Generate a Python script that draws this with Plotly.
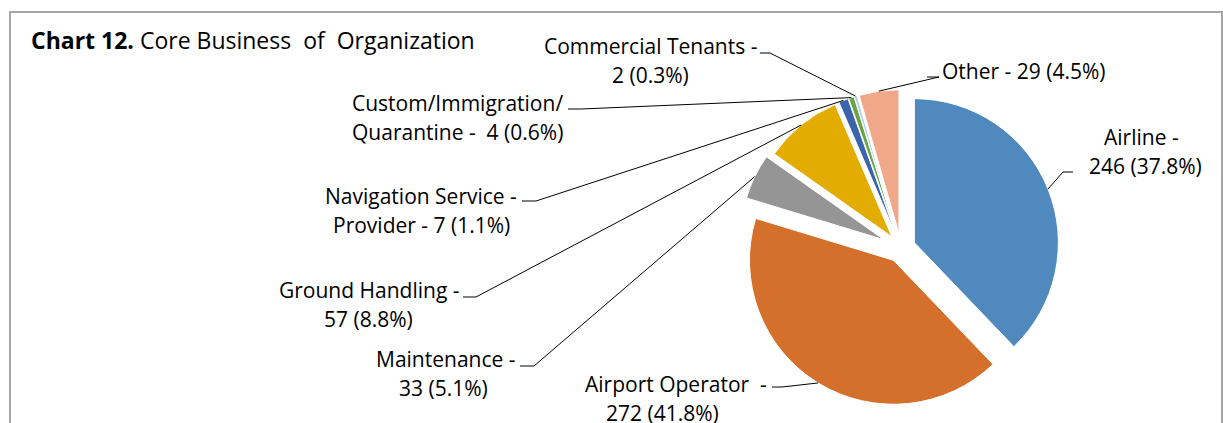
import math
import plotly.graph_objects as go

# ---------------- data ----------------
categories = ["Airline", "Airport Operator", "Maintenance", "Ground Handling",
              "Navigation Service Provider", "Custom/Immigration/Quarantine",
              "Commercial Tenants", "Other"]
counts = [246, 272, 33, 57, 7, 4, 2, 29]
colors = ["#4F89BD", "#D4702C", "#959595", "#E3AC00",
          "#3A64AD", "#6AA343", "#A9CBEC", "#F1A88A"]
pulls = [0.10, 0.10, 0.13, 0.10, 0.10, 0.10, 0.10, 0.10]

total = sum(counts)
pct = [f"{100.0 * c / total:.1f}%" for c in counts]
vp = [f"{c} ({p})" for c, p in zip(counts, pct)]

# label text lines for each slice (same order as categories)
label_lines = [
    ["Airline -", vp[0]],
    ["Airport Operator\u00a0 -", vp[1]],
    ["Maintenance -", vp[2]],
    ["Ground Handling -", vp[3]],
    ["Navigation Service -", "Provider - " + vp[4]],
    ["Custom/Immigration/", "Quarantine -\u00a0 " + vp[5]],
    ["Commercial Tenants -", vp[6]],
    ["Other - " + vp[7]],
]

# ---------------- layout constants (pixels) ----------------
W, H = 1223, 423
CX, CY, R = 901.0, 248.0, 144.0
FONT = "'Open Sans', Lato, sans-serif"
FS = 21
FS_TITLE = 23
LINE_H = 29

# per-label: list of line centre x's, first line centre y, leader start x, elbow x, leader y
label_pos = [
    dict(xs=[1141, 1145], y=137, lx0=1073, lx1=1063, ly=172),
    dict(xs=[676, 662], y=384, lx0=772, lx1=782, ly=387),
    dict(xs=[446, 444], y=359, lx0=520, lx1=534, ly=366),
    dict(xs=[369, 368], y=290, lx0=463, lx1=476, ly=297),
    dict(xs=[421, 421], y=196, lx0=522, lx1=536, ly=201),
    dict(xs=[457, 457], y=103, lx0=568, lx1=581, ly=109),
    dict(xs=[650, 650], y=46, lx0=760, lx1=770, ly=53),
    dict(xs=[1024], y=71, lx0=927, lx1=939, ly=77),
]


def fx(x):
    return x / W


def fy(y):
    return 1 - y / H


maxpull = max(pulls)
half = R * (1 + maxpull)

fig = go.Figure()
fig.add_trace(go.Pie(
    labels=categories,
    values=counts,
    sort=False,
    direction="clockwise",
    rotation=0,
    pull=pulls,
    textinfo="none",
    marker=dict(colors=colors, line=dict(color="white", width=1)),
    domain=dict(x=[fx(CX - half), fx(CX + half)], y=[fy(CY + half), fy(CY - half)]),
    showlegend=False,
    hoverinfo="label+value+percent",
))

r_used = R

annotations = []
shapes = []

# title
annotations.append(dict(
    x=fx(29), y=fy(40), xref="paper", yref="paper", xanchor="left", yanchor="middle",
    showarrow=False,
    text="<b>Chart 12.</b> Core Business\u00a0 of\u00a0 Organization",
    font=dict(family=FONT, size=FS_TITLE, color="#000000"),
))

cum = 0.0
for i, c in enumerate(counts):
    mid = (cum + c / 2.0) / total * 2 * math.pi
    cum += c
    rr = r_used * (1 + pulls[i])
    tx = CX + rr * math.sin(mid)
    ty = CY - rr * math.cos(mid)
    pos = label_pos[i]
    for k, line in enumerate(label_lines[i]):
        annotations.append(dict(
            x=fx(pos["xs"][k]), y=fy(pos["y"] + k * LINE_H), xref="paper", yref="paper",
            xanchor="center", yanchor="middle", showarrow=False, text=line,
            font=dict(family=FONT, size=FS, color="#000000"),
        ))
    # leader: short horizontal segment, then straight line to slice edge
    shapes.append(dict(type="line", xref="paper", yref="paper",
                       x0=fx(pos["lx0"]), y0=fy(pos["ly"]), x1=fx(pos["lx1"]), y1=fy(pos["ly"]),
                       line=dict(color="#000000", width=1)))
    shapes.append(dict(type="line", xref="paper", yref="paper",
                       x0=fx(pos["lx1"]), y0=fy(pos["ly"]), x1=fx(tx), y1=fy(ty),
                       line=dict(color="#000000", width=1)))

# chart border (top and left visible)
shapes.append(dict(type="rect", xref="paper", yref="paper",
                   x0=fx(10), y0=fy(440), x1=fx(1222), y1=fy(12),
                   line=dict(color="#A5A5A5", width=2), layer="below"))

fig.update_layout(
    width=W, height=H,
    margin=dict(l=0, r=0, t=0, b=0),
    paper_bgcolor="white", plot_bgcolor="white",
    annotations=annotations, shapes=shapes,
    font=dict(family=FONT, size=FS),
)

fig.write_html("out.html", config={"displayModeBar": False},
               post_script="document.body.style.margin='0';")
